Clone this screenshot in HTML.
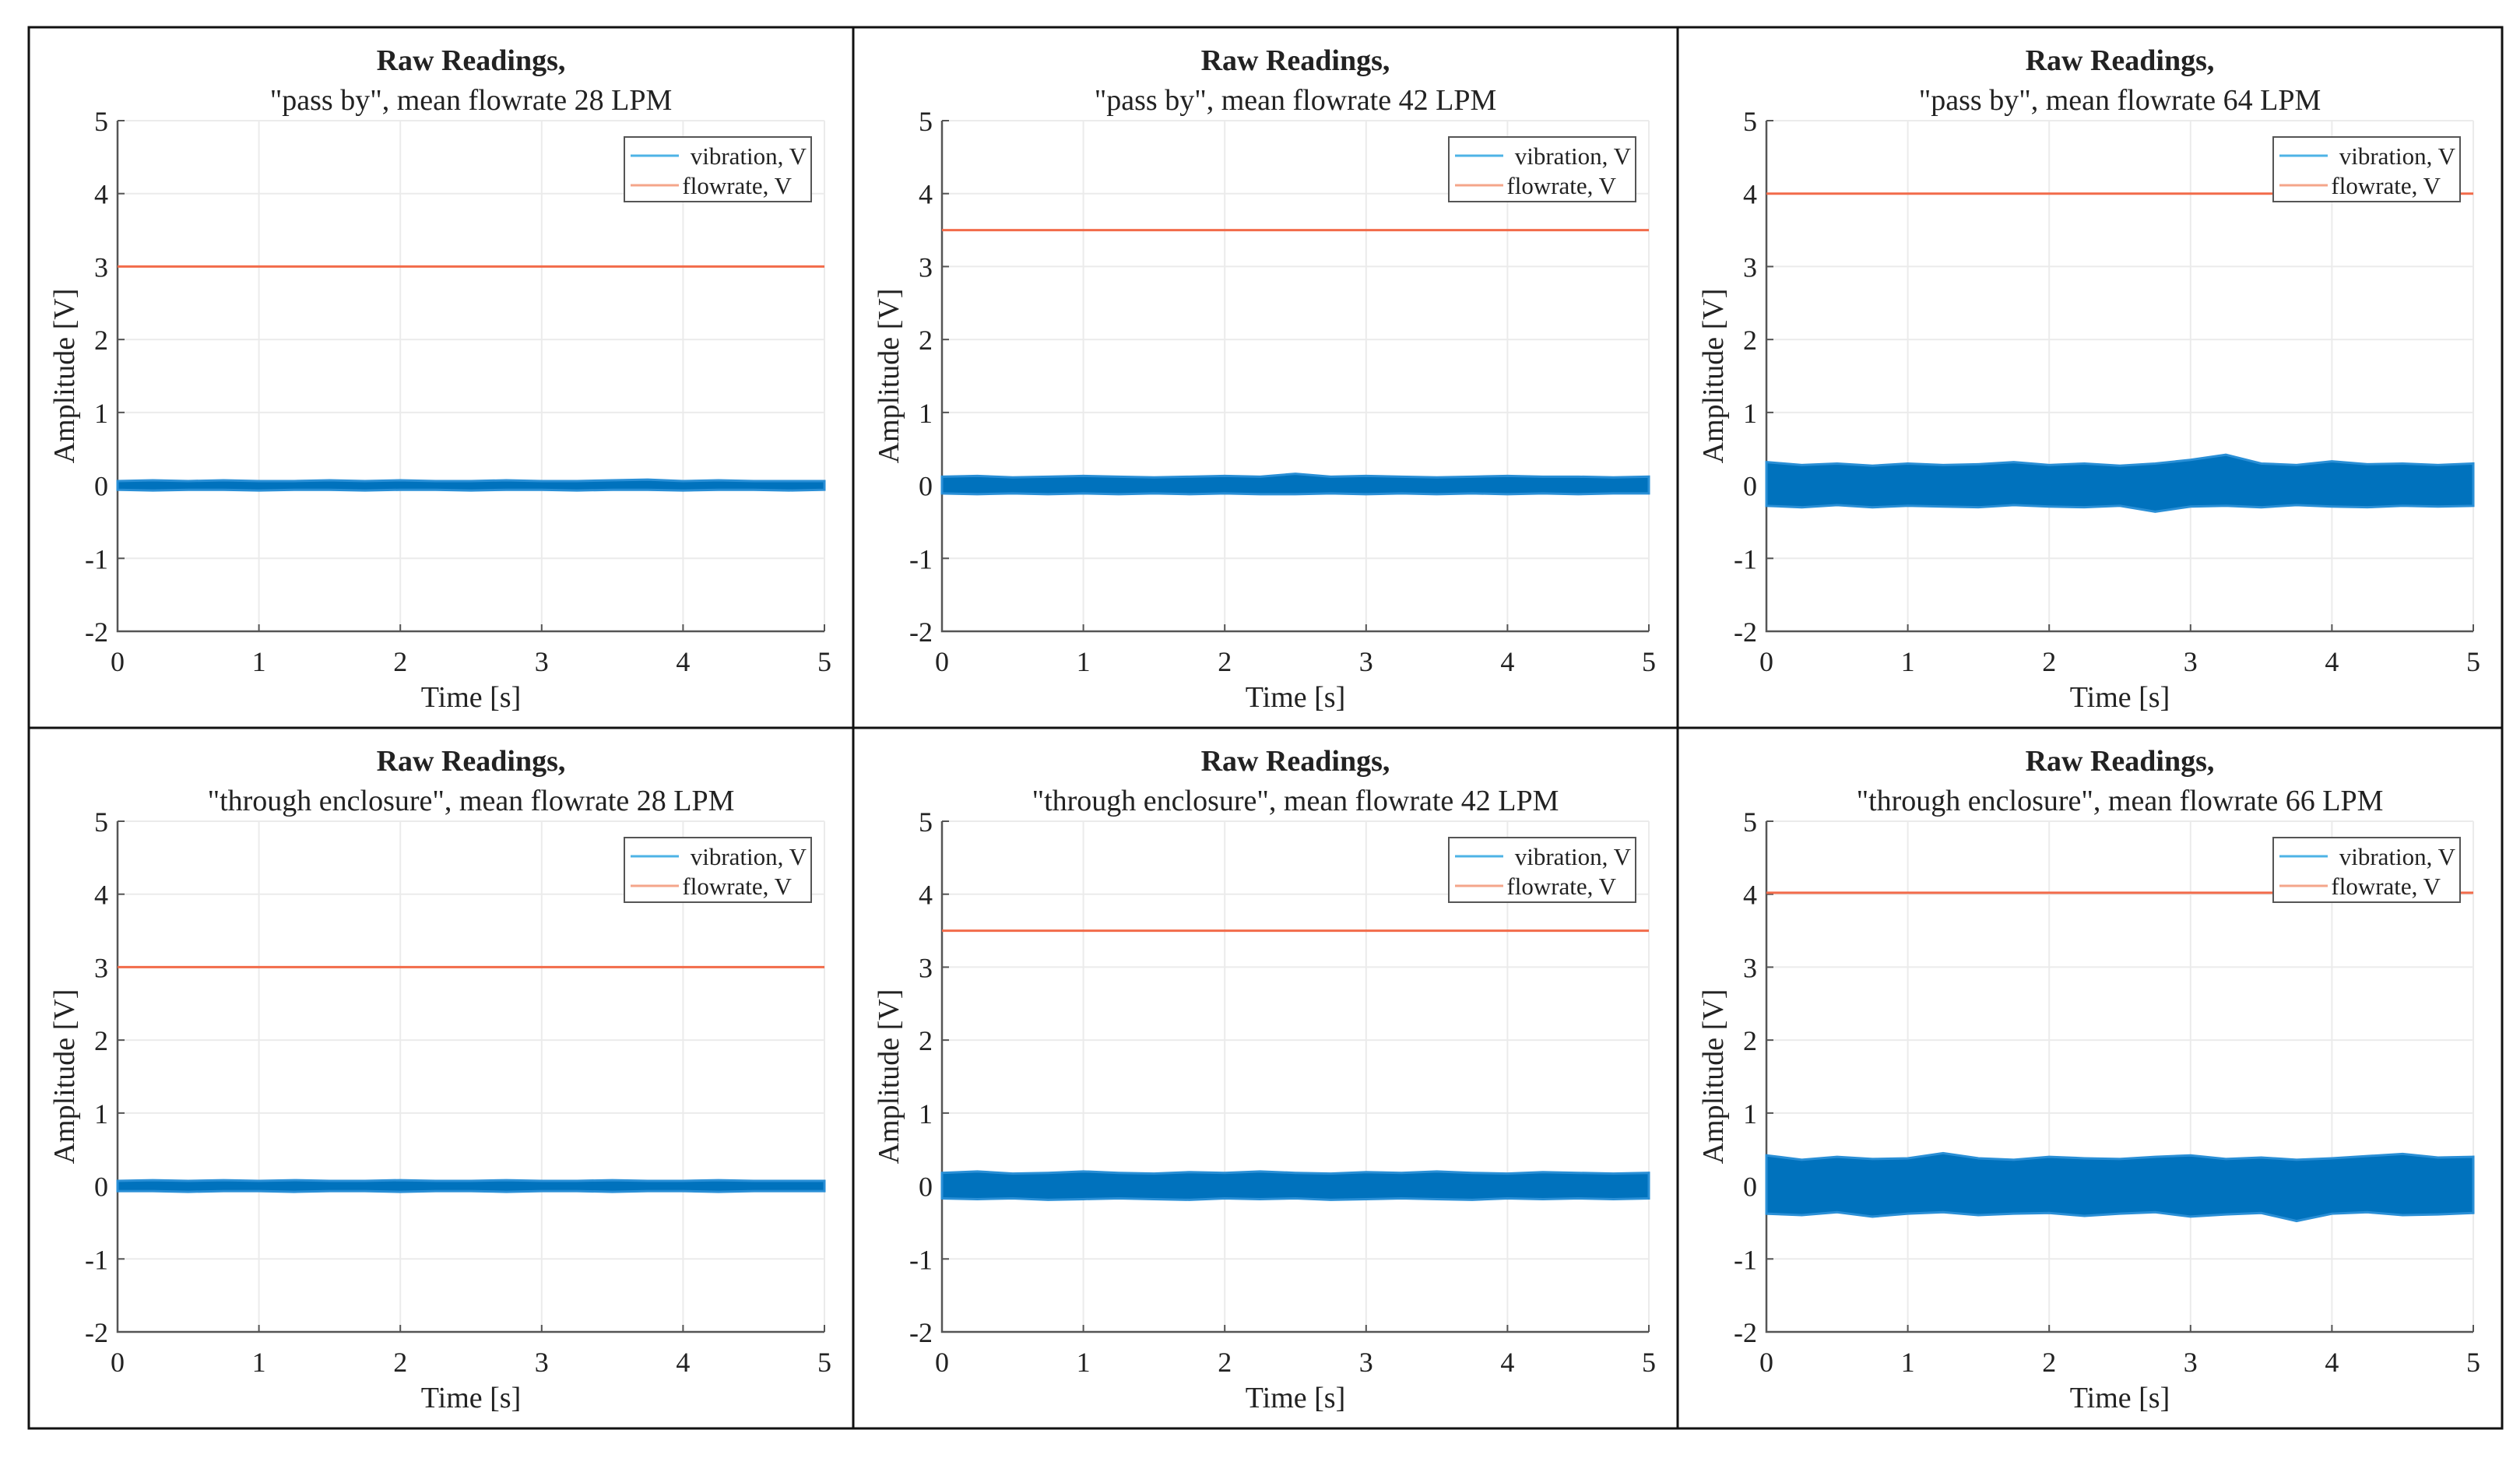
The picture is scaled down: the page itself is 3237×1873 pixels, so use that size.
<!DOCTYPE html>
<html><head><meta charset="utf-8"><style>
html,body{margin:0;padding:0;background:#fff}
svg{display:block}
text{font-family:"Liberation Serif",serif;fill:#222}
</style></head><body>
<svg id="fig" width="3237" height="1873" viewBox="0 0 3237 1873" xmlns="http://www.w3.org/2000/svg"></svg>
<script>
const titles2 = ['"pass by", mean flowrate 28 LPM','"pass by", mean flowrate 42 LPM','"pass by", mean flowrate 64 LPM',
 '"through enclosure", mean flowrate 28 LPM','"through enclosure", mean flowrate 42 LPM','"through enclosure", mean flowrate 66 LPM'];
const xTicks = [0,1,2,3,4,5];
const yTicks = [5,4,3,2,1,0,-1,-2];
const flowMeans = [3.0,3.5,4.0,3.0,3.5,4.02];
const envTimes = [0,0.25,0.5,0.75,1,1.25,1.5,1.75,2,2.25,2.5,2.75,3,3.25,3.5,3.75,4,4.25,4.5,4.75,5];
const vibUpper = [
 [0.06,0.07,0.06,0.07,0.06,0.06,0.07,0.06,0.07,0.06,0.06,0.07,0.06,0.06,0.07,0.08,0.06,0.07,0.06,0.06,0.06],
 [0.12,0.13,0.11,0.12,0.13,0.12,0.11,0.12,0.13,0.12,0.16,0.12,0.13,0.12,0.11,0.12,0.13,0.12,0.12,0.11,0.12],
 [0.32,0.28,0.3,0.27,0.3,0.28,0.29,0.32,0.28,0.3,0.27,0.3,0.35,0.42,0.3,0.28,0.33,0.29,0.3,0.28,0.3],
 [0.07,0.08,0.07,0.08,0.07,0.08,0.07,0.07,0.08,0.07,0.07,0.08,0.07,0.07,0.08,0.07,0.07,0.08,0.07,0.07,0.07],
 [0.18,0.2,0.17,0.18,0.2,0.18,0.17,0.19,0.18,0.2,0.18,0.17,0.19,0.18,0.2,0.18,0.17,0.19,0.18,0.17,0.18],
 [0.42,0.36,0.4,0.37,0.38,0.45,0.38,0.36,0.4,0.38,0.37,0.4,0.42,0.37,0.39,0.36,0.38,0.41,0.44,0.39,0.4]];
const vibLower = [
 [-0.06,-0.07,-0.06,-0.06,-0.07,-0.06,-0.06,-0.07,-0.06,-0.06,-0.07,-0.06,-0.06,-0.07,-0.06,-0.06,-0.07,-0.06,-0.06,-0.07,-0.06],
 [-0.11,-0.12,-0.11,-0.12,-0.11,-0.12,-0.11,-0.12,-0.11,-0.12,-0.12,-0.11,-0.12,-0.11,-0.12,-0.11,-0.12,-0.11,-0.12,-0.11,-0.11],
 [-0.28,-0.3,-0.27,-0.3,-0.28,-0.29,-0.3,-0.27,-0.29,-0.3,-0.28,-0.36,-0.29,-0.28,-0.3,-0.27,-0.29,-0.3,-0.28,-0.29,-0.28],
 [-0.07,-0.07,-0.08,-0.07,-0.07,-0.08,-0.07,-0.07,-0.08,-0.07,-0.07,-0.08,-0.07,-0.07,-0.08,-0.07,-0.07,-0.08,-0.07,-0.07,-0.07],
 [-0.17,-0.18,-0.17,-0.19,-0.18,-0.17,-0.18,-0.19,-0.17,-0.18,-0.17,-0.19,-0.18,-0.17,-0.18,-0.19,-0.17,-0.18,-0.17,-0.18,-0.17],
 [-0.38,-0.4,-0.36,-0.42,-0.38,-0.36,-0.4,-0.38,-0.37,-0.41,-0.38,-0.36,-0.42,-0.39,-0.37,-0.48,-0.38,-0.36,-0.4,-0.39,-0.37]];
const NS='http://www.w3.org/2000/svg';
const svg=document.getElementById('fig');
function mk(tag,attrs,parent,txt){const e=document.createElementNS(NS,tag);for(const k in attrs)e.setAttribute(k,attrs[k]);if(txt!==undefined)e.textContent=txt;parent.appendChild(e);return e;}
const colX=[37,1096,2155], rowY=[35,935], PW=1059, PH=900;
for(let p=0;p<6;p++){
  const px=colX[p%3], py=rowY[Math.floor(p/3)];
  const g=mk('g',{},svg);
  
  
  const border=mk('rect',{x:px,y:py,width:PW,height:PH,fill:'#fff',stroke:'#111','stroke-width':3},g);
  
  
  const L=px+114,R=px+1022,T=py+120,B=py+776;
  const sx=v=>L+(v-0)/5*(R-L);
  const sy=v=>B-(v+2)/7*(B-T);
  const t1=mk('text',{x:(L+R)/2,y:py+55,'text-anchor':'middle','font-size':38,'font-weight':'bold'},g,'Raw Readings,');
  
  
  const t2=mk('text',{x:(L+R)/2,y:py+106,'text-anchor':'middle','font-size':38},g,titles2[p]);
  
  
  xTicks.forEach(v=>{const l=mk('line',{x1:sx(v),x2:sx(v),y1:T,y2:B,stroke:'#ebebeb','stroke-width':2},g);
    });
  yTicks.forEach(v=>{const l=mk('line',{x1:L,x2:R,y1:sy(v),y2:sy(v),stroke:'#ebebeb','stroke-width':2},g);
    });
  const ax=mk('path',{d:`M${L},${T} L${L},${B} L${R},${B}`,fill:'none',stroke:'#555','stroke-width':2.5},g);
  
  xTicks.forEach(v=>{mk('line',{x1:sx(v),x2:sx(v),y1:B,y2:B-9,stroke:'#555','stroke-width':2},g);
    const t=mk('text',{x:sx(v),y:B+51,'text-anchor':'middle','font-size':36},g,String(v));
    });
  yTicks.forEach(v=>{mk('line',{x1:L,x2:L+9,y1:sy(v),y2:sy(v),stroke:'#555','stroke-width':2},g);
    const t=mk('text',{x:L-12,y:sy(v)+13,'text-anchor':'end','font-size':36},g,String(v));
    });
  const xl=mk('text',{x:(L+R)/2,y:py+873,'text-anchor':'middle','font-size':38},g,'Time [s]');
  
  const cy=(T+B)/2;
  const yl=mk('text',{x:px+58,y:cy,'text-anchor':'middle','font-size':38,transform:`rotate(-90 ${px+58} ${cy})`},g,'Amplitude [V]');
  
  let d='';
  envTimes.forEach((t,i)=>{d+=(i?'L':'M')+sx(t)+','+sy(vibUpper[p][i])+' ';});
  for(let i=envTimes.length-1;i>=0;i--)d+='L'+sx(envTimes[i])+','+sy(vibLower[p][i])+' ';
  const vb=mk('path',{d:d+'Z',fill:'#0072bd',stroke:'#2a8fd6','stroke-width':3},g);
  
  const fl=mk('line',{x1:sx(0),x2:sx(5),y1:sy(flowMeans[p]),y2:sy(flowMeans[p]),stroke:'#f26b4a','stroke-width':3},g);
  
  const lx=R-257,ly=T+21;
  const lg=mk('g',{},g);
  
  mk('rect',{x:lx,y:ly,width:240,height:83,fill:'#fff',stroke:'#555','stroke-width':2},lg);
  mk('line',{x1:lx+8,x2:lx+70,y1:ly+24,y2:ly+24,stroke:'#4db3e6','stroke-width':3},lg);
  const le1=mk('text',{x:lx+234,y:ly+35,'text-anchor':'end','font-size':31},lg,'vibration, V');
  
  mk('line',{x1:lx+8,x2:lx+70,y1:ly+62,y2:ly+62,stroke:'#f4a58a','stroke-width':3},lg);
  const le2=mk('text',{x:lx+215,y:ly+73,'text-anchor':'end','font-size':31},lg,'flowrate, V');
  
}
</script>
</body></html>
